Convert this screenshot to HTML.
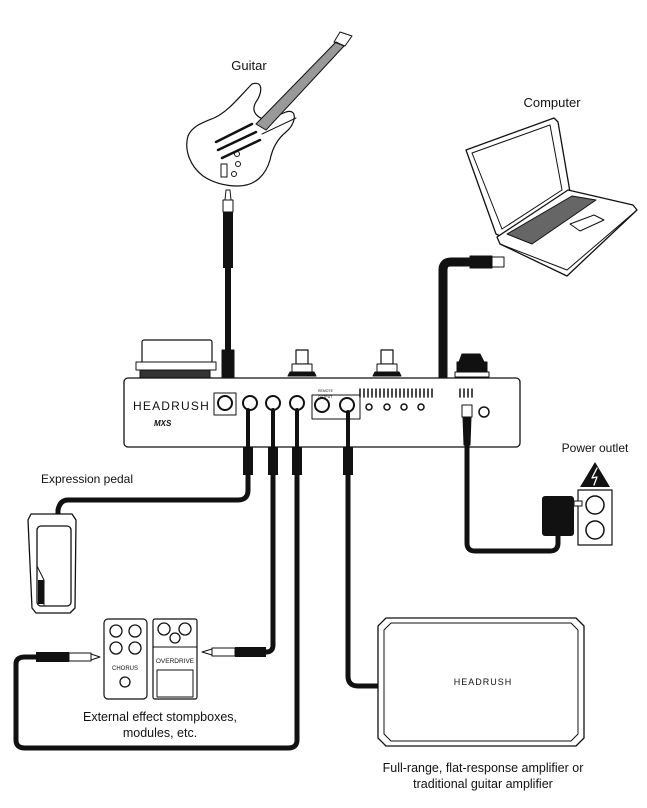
<!DOCTYPE html>
<html><head><meta charset="utf-8"><style>
html,body{margin:0;padding:0;background:#fff;}
svg{display:block;}
text{font-family:"Liberation Sans",sans-serif;fill:#111;}
</style></head><body>
<svg width="647" height="808" viewBox="0 0 647 808" xmlns="http://www.w3.org/2000/svg">
<g fill="none" stroke="#111" stroke-linecap="round" stroke-linejoin="round">

<!-- Guitar -->
<text x="249" y="70" font-size="13" text-anchor="middle" stroke="none">Guitar</text>
<path d="M252 84 C264 80 262 94 256 102 C250 112 258 118 266 120 L286 112 C298 108 296 124 286 132 C276 140 272 150 270 160 C266 174 256 186 238 186 C224 186 212 182 203 176 C190 166 184 150 188 136 C192 126 204 122 214 118 C228 112 240 96 252 84 Z" stroke-width="1.2"/>
<path d="M256 124 L336 42 L344 46 L266 130 Z" fill="#999" stroke-width="1"/>
<path d="M334 42 L340 32 L352 36 L345 46 Z" stroke-width="1"/>
<path d="M216 142 L252 124 M218 150 L256 132 M222 158 L260 140" stroke-width="2.5"/>
<path d="M262 134 L296 118" stroke-width="1"/>
<circle cx="237" cy="154" r="2.5" stroke-width="1"/><circle cx="238" cy="164" r="2.5" stroke-width="1"/><circle cx="234" cy="174" r="2.5" stroke-width="1"/>
<rect x="221" y="164" width="6" height="13" stroke-width="1"/>
<!-- guitar cable -->
<path d="M226 190 L230 190 L231 200 L225 200 Z" stroke-width="1"/>
<rect x="223" y="200" width="10" height="12" fill="#fff" stroke-width="1"/>
<line x1="228" y1="212" x2="228" y2="268" stroke-width="10" stroke-linecap="butt"/>
<line x1="228" y1="268" x2="228" y2="350" stroke-width="6" stroke-linecap="butt"/>
<rect x="222" y="350" width="12" height="34" fill="#111" stroke-width="1"/>
<rect x="224" y="384" width="8" height="14" fill="#fff" stroke-width="1"/>

<!-- Computer -->
<text x="552" y="107" font-size="13" text-anchor="middle" stroke="none">Computer</text>
<path d="M466 150 L554 118 L558 122 L570 192 L500 236 L496 234 Z" fill="#fff" stroke-width="1.3"/>
<path d="M472 153 L550 125 L562 190 L502 229 Z" stroke-width="1"/>
<path d="M497 237 L568 190 L633 205 L637 210 L567 276 L500 244 Z" fill="#fff" stroke-width="1.3"/>
<path d="M500 244 L567 270 L637 210" stroke-width="1"/>
<path d="M507 234 L572 196 L596 200 L532 244 Z" fill="#666" stroke-width="1"/>
<path d="M570 224 L594 215 L604 220 L580 231 Z" stroke-width="1"/>
<!-- USB cable -->
<path d="M443 385 L443 270 Q443 262 451 262 L472 262" stroke-width="9" stroke-linecap="butt"/>
<rect x="470" y="256" width="22" height="12" fill="#111" stroke-width="1"/>
<rect x="492" y="257" width="12" height="10" fill="#fff" stroke-width="1"/>
<rect x="437" y="378" width="14" height="26" fill="#111" stroke-width="1"/>

<!-- Unit top items -->
<rect x="142" y="340" width="70" height="26" rx="2" fill="#fff" stroke-width="1.2"/>
<rect x="136" y="362" width="80" height="8" fill="#fff" stroke-width="1"/>
<rect x="140" y="370" width="70" height="8" fill="#333" stroke-width="1"/>
<rect x="296" y="350" width="12" height="14" fill="#fff" stroke-width="1.2"/>
<rect x="292" y="364" width="20" height="8" fill="#fff" stroke-width="1"/>
<path d="M288 376 L316 376 L314 372 L290 372 Z" fill="#111"/>
<rect x="381" y="350" width="12" height="14" fill="#fff" stroke-width="1.2"/>
<rect x="377" y="364" width="20" height="8" fill="#fff" stroke-width="1"/>
<path d="M373 376 L401 376 L399 372 L375 372 Z" fill="#111"/>
<path d="M459 362 L462 354 L480 354 L484 362 Z" fill="#111"/>
<rect x="457" y="362" width="30" height="10" fill="#111" stroke-width="1"/>
<rect x="455" y="372" width="34" height="5" fill="#fff" stroke-width="1"/>

<!-- Unit body -->
<rect x="124" y="378" width="396" height="69" rx="4" fill="#fff" stroke-width="1.3"/>
<text x="133" y="410" font-size="12" letter-spacing="1.2" stroke="none">HEADRUSH</text>
<text x="154" y="426" font-size="8" font-weight="bold" font-style="italic" stroke="none">MXS</text>
<g stroke-width="1">
<rect x="214" y="393" width="22" height="22"/>
<circle cx="225" cy="403" r="7" stroke-width="2"/>
<circle cx="250" cy="403" r="7" stroke-width="2"/>
<circle cx="273" cy="403" r="7" stroke-width="2"/>
<circle cx="297" cy="403" r="7" stroke-width="2"/>
<rect x="312" y="395" width="48" height="24"/>
<circle cx="322" cy="405" r="7" stroke-width="2"/>
<circle cx="347" cy="405" r="7" stroke-width="2"/>
<circle cx="369" cy="407" r="3" stroke-width="1.5"/>
<circle cx="387" cy="407" r="3" stroke-width="1.5"/>
<circle cx="404" cy="407" r="3" stroke-width="1.5"/>
<circle cx="421" cy="407" r="3" stroke-width="1.5"/>
<circle cx="484" cy="412" r="5" stroke-width="1.5"/>
</g>
<g stroke-width="1.5">
<path d="M360 389v8M364 389v8M368 389v8M372 389v8M376 389v8M380 389v8M384 389v8M388 389v8M392 389v8M396 389v8M400 389v8M404 389v8M408 389v8M412 389v8M416 389v8M420 389v8M424 389v8M428 389v8M432 389v8M460 389v8M464 389v8M468 389v8M472 389v8"/>
</g>
<g font-size="3.5" stroke="none"><text x="318" y="392">REMOTE</text><text x="318" y="398">OUTPUT</text></g>

<!-- cables down from unit -->
<g>
<line x1="248" y1="410" x2="248" y2="447" stroke-width="4"/>
<line x1="273" y1="410" x2="273" y2="447" stroke-width="4"/>
<line x1="297" y1="410" x2="297" y2="447" stroke-width="4"/>
<line x1="348" y1="412" x2="348" y2="447" stroke-width="4"/>
<rect x="243" y="447" width="10" height="28" fill="#111" stroke="none"/>
<rect x="268" y="447" width="10" height="28" fill="#111" stroke="none"/>
<rect x="292" y="447" width="10" height="28" fill="#111" stroke="none"/>
<rect x="343" y="447" width="10" height="28" fill="#111" stroke="none"/>
</g>
<g stroke-width="5">
<path d="M248 475 L248 490 Q248 500 238 500 L68 500 Q60 500 58 510 L58 515"/>
<path d="M273 475 L273 645 Q273 652 266 652 L262 652"/>
<path d="M297 475 L297 740 Q297 748 288 748 L25 748 Q16 748 16 740 L16 664 Q16 657 25 657 L36 657"/>
<path d="M348 475 L348 676 Q348 686 358 686 L380 686"/>
<path d="M467 440 L467 543 Q467 551 475 551 L550 551 Q558 551 558 543 L558 535"/>
</g>
<rect x="462" y="405" width="10" height="12" fill="#fff" stroke-width="1"/>
<path d="M463 417 L471 417 L470 445 L464 445 Z" fill="#111"/>

<!-- power outlet -->
<text x="595" y="452" font-size="12" text-anchor="middle" stroke="none">Power outlet</text>
<path d="M580 487 L595 462 L610 487 Z" fill="#111" stroke="none"/>
<path d="M597 468 L592 478 L597 477 L594 485" stroke="#fff" stroke-width="1.3"/>
<rect x="578" y="490" width="34" height="55" fill="#fff" stroke-width="1.2"/>
<circle cx="595" cy="505" r="9" stroke-width="1.5"/>
<circle cx="595" cy="530" r="9" stroke-width="1.5"/>
<rect x="542" y="496" width="32" height="40" rx="3" fill="#111" stroke="none"/>
<rect x="574" y="501" width="8" height="5" fill="#fff" stroke-width="1"/>

<!-- expression pedal -->
<text x="87" y="483" font-size="12" text-anchor="middle" stroke="none">Expression pedal</text>
<path d="M31 514 L72 514 L76 520 L75 608 L70 613 L36 613 L32 608 L28 520 Z" fill="#fff" stroke-width="1.3"/>
<rect x="37" y="526" width="34" height="80" rx="4" fill="#fff" stroke-width="1.3"/>
<path d="M37 566 L44 580 L44 606" stroke-width="1"/>
<rect x="38" y="580" width="6" height="24" fill="#111" stroke="none"/>

<!-- stompboxes -->
<rect x="104" y="619" width="43" height="80" rx="4" fill="#fff" stroke-width="1.2"/>
<circle cx="116" cy="631" r="6" stroke-width="1.3"/><circle cx="135" cy="631" r="6" stroke-width="1.3"/>
<circle cx="116" cy="648" r="6" stroke-width="1.3"/><circle cx="135" cy="648" r="6" stroke-width="1.3"/>
<text x="125" y="670" font-size="6" text-anchor="middle" stroke="none" fill="#555">CHORUS</text>
<circle cx="125" cy="682" r="5" stroke-width="1.3"/>
<rect x="153" y="619" width="44" height="80" rx="2" fill="#fff" stroke-width="1.2"/>
<circle cx="164" cy="629" r="6" stroke-width="1.3"/><circle cx="185" cy="629" r="6" stroke-width="1.3"/><circle cx="175" cy="638" r="5" stroke-width="1.3"/>
<line x1="153" y1="647" x2="197" y2="647" stroke-width="1"/>
<text x="175" y="663" font-size="6.5" text-anchor="middle" stroke="none">OVERDRIVE</text>
<rect x="157" y="670" width="36" height="27" stroke-width="1"/>
<rect x="235" y="647" width="31" height="10" fill="#111" stroke="none"/>
<rect x="212" y="648" width="23" height="8" fill="#fff" stroke-width="1"/>
<path d="M212 649 L202 652 L212 655" stroke-width="1"/>
<rect x="36" y="652" width="33" height="10" fill="#111" stroke="none"/>
<rect x="69" y="653" width="22" height="8" fill="#fff" stroke-width="1"/>
<path d="M91 654 L100 657 L91 660" stroke-width="1"/>
<text x="160" y="721" font-size="12.5" text-anchor="middle" stroke="none">External effect stompboxes,</text>
<text x="160" y="737" font-size="12.5" text-anchor="middle" stroke="none">modules, etc.</text>

<!-- amp -->
<path d="M386 618 L576 618 L584 626 L584 738 L576 746 L386 746 L378 738 L378 626 Z" fill="#fff" stroke-width="1.3"/>
<path d="M391 623 L571 623 L578 630 L578 734 L571 741 L391 741 L384 734 L384 630 Z" stroke-width="1"/>
<text x="483" y="685" font-size="9" letter-spacing="1" text-anchor="middle" stroke="none">HEADRUSH</text>
<text x="483" y="772" font-size="12.5" text-anchor="middle" stroke="none">Full-range, flat-response amplifier or</text>
<text x="483" y="788" font-size="12.5" text-anchor="middle" stroke="none">traditional guitar amplifier</text>
</g>
</svg>
</body></html>
